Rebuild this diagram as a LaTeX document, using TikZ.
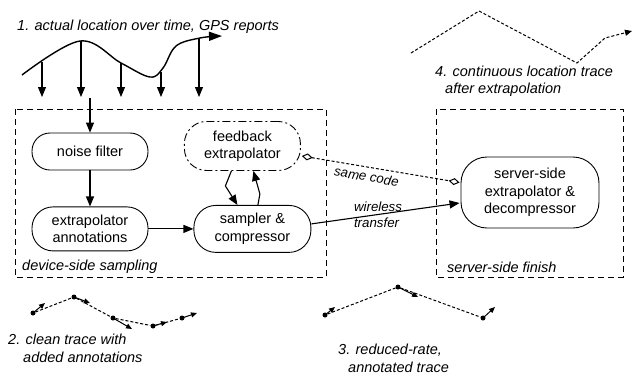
\documentclass[tikz,border=0pt]{standalone}
\usepackage{fontspec}
\setmainfont{Liberation Sans}
\usetikzlibrary{positioning,arrows.meta,calc}

\begin{document}
\begin{tikzpicture}[
    x=1pt, y=-1pt,
    box/.style={draw, line width=0.9pt, align=center, inner sep=2pt,
                font=\fontsize{14.5}{17.5}\selectfont},
    dashdot/.style={dash pattern=on 8pt off 3pt on 2pt off 3pt},
    frame/.style={draw, line width=1pt, dash pattern=on 6pt off 4pt},
    caption/.style={font=\fontsize{14.5}{17.5}\selectfont\itshape, align=left, inner sep=0pt},
    lbl/.style={font=\fontsize{13.3}{16}\selectfont\itshape, inner sep=1pt},
    arr/.style={-{Triangle[length=10pt,width=8pt]}, line width=1.1pt},
    same/.style={{Diamond[open,length=11pt,width=7pt]}-{Diamond[open,length=11pt,width=7pt]},
                 line width=1pt, dash pattern=on 3pt off 2pt},
    trace/.style={line width=1pt, dash pattern=on 3pt off 2pt},
    tick/.style={-{Triangle[length=6pt,width=5pt]}, line width=1pt},
    dot/.style={circle, fill, inner sep=0pt, minimum size=5pt},
  ]
  \useasboundingbox (0,0) rectangle (633,376);

  % ===== 1. actual location and GPS reports =====
  \node[caption, anchor=west] (cap1) at (17,27) {1. actual location over time, GPS reports};
  \draw[line width=1.4pt, -{Triangle[length=13pt,width=9pt]}]
    plot[smooth, tension=0.6] coordinates
    {(22,75) (80,41) (121,63) (150,77) (163,68) (176,46) (200,38) (222,36)};
  \foreach \x/\y in {42/62, 81/41, 121/63, 161/72, 199/38}
    \draw[arr] (\x,\y) -- (\x,97);

  % ===== device side =====
  \node[box, minimum width=116pt, minimum height=37pt, rounded corners=18pt]
    (noise) at (90,151.5) {noise filter};
  \node[box, minimum width=116pt, minimum height=44pt, rounded corners=21pt,
        below=36pt of noise] (annot) {extrapolator\\annotations};
  \node[box, minimum width=117pt, minimum height=47pt, rounded corners=22pt,
        right=45pt of annot] (sampler) {sampler \&\\compressor};
  \node[box, dashdot, minimum width=116pt, minimum height=49pt, rounded corners=22pt,
        above=34pt of sampler, xshift=-10pt] (feedback) {feedback\\extrapolator};

  % ===== server side =====
  \node[box, minimum width=138pt, minimum height=71pt, rounded corners=26pt]
    (server) at (530,192.5) {server-side\\extrapolator \&\\decompressor};

  % ===== arrows =====
  \coordinate (gps) at (90,98);
  \draw[arr] (gps) -- (noise);
  \draw[arr] (noise) -- (annot);
  \draw[arr] (annot) -- (sampler);
  \draw[arr] ($(feedback.south)+(-11,0)$) -- ($(feedback.south)+(-17,15)$)
        -- ($(sampler.north)+(-15,0)$);
  \draw[arr] ($(sampler.north)+(5.5,0)$) -- ($(sampler.north)+(7.5,-11)$)
        -- ($(feedback.south)+(11,0)$);
  \draw[same] ($(feedback.east)+(1,10)$) -- ($(server.west)+(-1,-10)$)
        node[lbl, pos=0.42, sloped, below=3pt] {same code};
  \draw[arr] ($(sampler.east)+(0,-5)$) -- ($(server.west)+(-1,10.5)$)
        node[lbl, pos=0.45, align=left] {wireless\\transfer};

  % ===== frames =====
  \draw[frame] (15,109) rectangle (326,277);
  \draw[frame] (436,109) rectangle (623,277);
  \node[caption, anchor=west] (devlbl) at (22,267) {device-side sampling};
  \node[caption, anchor=west] (srvlbl) at (447,267) {server-side finish};

  % ===== 2. clean trace =====
  \node[dot] (a1) at (33,313) {};
  \node[dot] (a2) at (74,297) {};
  \node[dot] (a3) at (113,318) {};
  \node[dot] (a4) at (153,326) {};
  \node[dot] (a5) at (182,318) {};
  \draw[trace] (a1) -- (a2) -- (a3) -- (a4) -- (a5);
  \draw[tick] (a1.center) -- ++(12,-10);
  \draw[tick] (a2.center) -- ++(16,6);
  \draw[tick] (a3.center) -- ++(19,11);
  \draw[tick] (a4.center) -- ++(14,-4);
  \draw[tick] (a5.center) -- ++(15,-5);
  \node[caption, anchor=west] (cap2) at (8,348.5) {2. clean trace with\\\hspace{15pt}added annotations};

  % ===== 3. reduced-rate trace =====
  \node[dot] (b1) at (325,315) {};
  \node[dot] (b2) at (398,287) {};
  \node[dot] (b3) at (483,318) {};
  \draw[trace] (b1) -- (b2) -- (b3);
  \draw[tick] (b1.center) -- ++(10,-8);
  \draw[tick] (b2.center) -- ++(20,10);
  \draw[tick] (b3.center) -- ++(12,-11);
  \node[caption, anchor=west] (cap3) at (338,358.5) {3. reduced-rate,\\\hspace{10pt}annotated trace};

  % ===== 4. continuous trace =====
  \draw[trace, -{Triangle[length=7pt,width=6pt]}]
    (411,53) -- (479,11) -- (577,63) -- (605,38) -- (632,31);
  \node[caption, anchor=west] (cap4) at (435,81) {4. continuous location trace\\\hspace{10pt}after extrapolation};

\end{tikzpicture}
\end{document}
